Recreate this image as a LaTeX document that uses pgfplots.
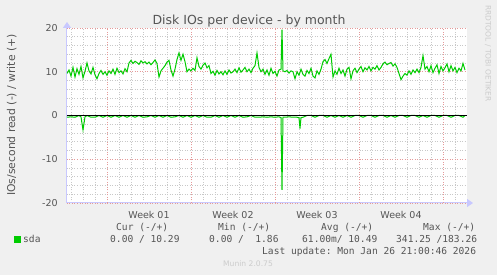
\documentclass[border=0pt]{standalone}
\usepackage{pgfplots}
\pgfplotsset{compat=1.18}
\usepackage{fontspec}
\setmainfont{DejaVu Sans}
\setmonofont{DejaVu Sans Mono}
\usetikzlibrary{arrows.meta}
\definecolor{bg}{HTML}{F0F0F0}
\definecolor{txt}{HTML}{555555}
\definecolor{mgrid}{HTML}{E49A9A}
\definecolor{ngrid}{HTML}{C8C8C8}
\definecolor{axcol}{HTML}{C8C8FF}
\definecolor{sda}{HTML}{00CC00}
\definecolor{wm}{HTML}{CCCCCC}
\begin{document}
\begin{tikzpicture}
\fill[bg] (-67pt,-72pt) rectangle (430pt,203pt);
\begin{axis}[
  scale only axis, width=400pt, height=175pt,
  xmin=0, xmax=400, ymin=-20, ymax=20,
  axis background/.style={fill=white},
  axis lines=left,
  axis line style={draw=axcol, line width=1pt},
  x axis line style={-{Triangle[length=6pt,width=8pt]}, shorten >=-6pt},
  y axis line style={-{Triangle[length=6pt,width=8pt]}, shorten >=-6pt},
  xtick={82,166,250,334},
  xticklabels={Week 01,Week 02,Week 03,Week 04},
  xtick style={draw=none},
  extra x ticks={40,124,208,292,376},
  extra x tick labels={},
  extra x tick style={xmajorgrids=true, major grid style={mgrid, line width=0.9pt, dash pattern=on 1pt off 1.5pt}, tick style={draw=none}},
  minor xtick={4,16,28,52,64,76,88,100,112,136,148,160,172,184,196,220,232,244,256,268,280,304,316,328,340,352,364,388},
  xminorgrids=true,
  ytick={-20,-10,0,10,20},
  yticklabels={-20,-10,0,10,20},
  minor y tick num=4,
  ymajorgrids=true, yminorgrids=true,
  major grid style={mgrid, line width=0.9pt, dash pattern=on 1pt off 1.5pt},
  minor grid style={ngrid, line width=0.9pt, dash pattern=on 1pt off 1.5pt},
  ytick style={draw=none},
  minor tick length=0pt,
  tick label style={font=\fontsize{9.5}{11}\selectfont, text=txt},
  xticklabel style={anchor=base, yshift=-13pt},
  yticklabel style={inner sep=0pt, xshift=-7pt},
  legend style={at={(axis description cs:-0.1325,-0.2086)}, anchor=west, draw=none, fill=none,
    font=\ttfamily\fontsize{9.6}{11}\selectfont, text=txt, inner sep=0pt},
  legend cell align=left,
]
\addplot[sda, line width=1pt, legend image code/.code={\fill[sda] (0pt,-3pt) rectangle (6pt,3pt);}] table {
x y
0 9.6
2 10.4
4 9.0
6 11.0
8 8.8
10 10.7
12 9.4
14 11.2
16 8.6
18 10.1
20 12.0
22 10.2
24 9.5
26 11.0
28 9.3
30 8.4
32 9.6
34 10.3
36 9.4
38 10.0
40 9.2
42 10.2
44 9.6
46 10.6
48 9.4
50 10.8
52 9.8
54 10.2
56 9.5
58 10.7
60 10.0
62 12.0
64 12.6
66 11.9
68 12.4
70 12.1
72 11.7
74 12.5
76 12.0
78 12.3
80 11.8
82 12.2
84 11.6
86 12.1
88 12.7
90 11.9
92 8.8
94 10.2
96 10.8
98 11.4
100 12.2
102 12.6
104 10.4
106 9.0
108 10.6
110 12.8
112 14.3
114 12.6
116 14.0
118 12.3
120 10.0
122 10.6
124 10.2
126 10.8
128 10.3
130 13.2
132 11.2
134 10.6
136 11.5
138 12.0
140 10.9
142 11.4
144 9.6
146 10.1
148 9.2
150 10.3
152 9.5
154 10.0
156 9.3
158 10.2
160 9.4
162 10.4
164 9.7
166 10.0
168 10.6
170 9.8
172 10.9
174 9.9
176 10.4
178 11.0
180 10.0
182 10.6
184 9.8
186 10.8
188 11.4
190 14.3
192 11.0
194 10.0
196 10.6
198 9.4
200 10.4
202 9.2
204 10.8
206 9.6
208 10.1
210 9.0
212 10.4
214 10.6
215 19.6
216 10.2
218 10.0
220 10.3
222 9.7
224 10.2
226 10.0
228 8.4
230 10.0
232 9.2
234 10.6
236 9.4
238 9.0
240 10.3
242 9.6
244 10.8
246 9.0
248 8.6
250 10.2
252 9.4
254 10.6
256 12.3
258 12.8
260 11.9
262 13.0
264 14.0
266 8.8
268 10.2
270 9.4
272 10.8
274 9.6
276 10.4
278 9.0
280 10.6
282 11.0
284 8.4
286 10.2
288 10.8
290 9.8
292 10.6
294 11.2
296 10.0
298 10.9
300 10.4
302 11.2
304 10.2
306 11.0
308 10.6
310 11.4
312 10.4
314 11.0
316 11.8
318 12.2
320 11.6
322 11.9
324 12.1
326 11.3
328 11.8
330 11.0
332 9.6
334 8.2
336 9.0
338 9.6
340 9.2
342 10.2
344 9.4
346 10.4
348 9.8
350 10.6
352 9.8
354 11.0
356 13.7
358 10.6
360 11.2
362 10.0
364 11.4
366 9.8
368 10.8
370 11.6
372 9.6
374 11.2
376 10.2
378 10.9
380 11.8
382 10.0
384 11.4
386 10.2
388 11.0
390 9.8
392 10.8
394 10.2
396 11.9
398 10.4
};
\addlegendentry{sda}
\addplot[sda, line width=1pt, forget plot] table {
x y
0 -0.4
4 -0.3
8 -0.4
12 0
14 -0.3
16 -3.3
18 -0.3
20 0
24 -0.4
28 -0.4
32 0
36 -0.4
40 0
44 -0.4
48 0
52 -0.4
56 0
60 -0.4
64 0
68 -0.4
72 0
76 -0.4
80 -0.3
84 0
88 -0.4
92 0
96 -0.4
100 0
104 -0.4
108 -0.3
112 0
116 -0.4
120 0
124 -0.4
128 0
132 -0.4
136 0
140 -0.4
144 -0.4
148 0
152 -0.4
156 0
160 -0.4
164 0
168 -0.4
172 0
176 -0.4
180 -0.3
184 0
188 -0.4
192 -0.4
196 -0.3
200 -0.4
204 -0.3
208 -0.4
212 -0.3
214 -0.5
215 -17
216 -0.4
218 -0.4
222 -0.3
226 -0.4
230 -0.4
232 -0.5
233 -3.0
234 -0.5
236 -0.4
240 0
244 0
248 -0.4
252 0
256 0
260 -0.4
264 0
268 -0.4
272 0
276 -0.4
280 0
284 -0.4
288 0
292 0
296 -0.4
300 0
304 0
308 -0.4
312 0
316 0
320 -0.4
324 0
328 -0.4
332 0
336 0
340 -0.4
344 0
348 0
352 -0.4
356 0
360 -0.4
364 0
368 0
372 -0.4
376 0
380 0
384 -0.4
388 0
392 0
396 -0.4
398 0
};
\addplot[black, line width=1pt, forget plot] coordinates {(0,0) (400,0)};
\end{axis}
\node[anchor=base, inner sep=0pt, font=\fontsize{12.5}{14}\selectfont, text=txt] at (182pt,178.7pt) {Disk IOs per device - by month};
\node[anchor=base, rotate=90, inner sep=0pt, font=\fontsize{10.8}{12}\selectfont, text=txt] at (-52pt,88pt) {IOs/second read (-) / write (+)};
\begin{scope}[every node/.style={anchor=base west, inner sep=0pt, font=\ttfamily\fontsize{9.6}{11}\selectfont, text=txt}]
\node at (49pt,-27.7pt) {Cur (-/+)};
\node at (151pt,-27.7pt) {Min (-/+)};
\node at (254pt,-27.7pt) {Avg (-/+)};
\node at (356pt,-27.7pt) {Max (-/+)};
\node at (43pt,-39.3pt) {0.00 / 10.29};
\node at (142pt,-39.3pt) {0.00 /\ \ 1.86};
\node at (235pt,-39.3pt) {61.00m/ 10.49};
\node at (329pt,-39.3pt) {341.25 /183.26};
\node at (195pt,-51.3pt) {Last update: Mon Jan 26 21:00:46 2026};
\end{scope}
\node[anchor=base, inner sep=0pt, font=\fontsize{7.6}{9}\selectfont, text=wm] at (181pt,-63.7pt) {Munin 2.0.75};
\node[rotate=-90, inner sep=0pt, font=\fontsize{7.5}{9}\selectfont, text=wm] at (421pt,149.5pt) {RRDTOOL / TOBI OETIKER};
\pgfresetboundingbox
\useasboundingbox (-67pt,-72pt) rectangle (430pt,203pt);
\end{tikzpicture}
\end{document}
